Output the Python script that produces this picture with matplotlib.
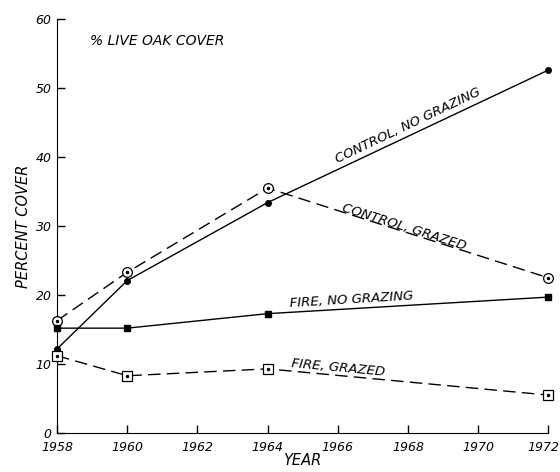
import matplotlib
matplotlib.use("Agg")
import matplotlib.pyplot as plt
import matplotlib.transforms as mtransforms

years = [1958, 1960, 1964, 1972]
control_no_grazing = [12.2, 22.1, 33.4, 52.6]
control_grazed = [16.3, 23.3, 35.5, 22.5]
fire_no_grazing = [15.2, 15.2, 17.3, 19.7]
fire_grazed = [11.2, 8.3, 9.3, 5.5]

x_ticks = [1958, 1960, 1962, 1964, 1966, 1968, 1970, 1972]
y_ticks = [0, 10, 20, 30, 40, 50, 60]

plt.rcParams['font.family'] = ['DejaVu Sans']
fs = dict(fontstyle='italic', color='black')

fig = plt.figure(figsize=(5.6, 4.72), dpi=100)
ax = fig.add_axes([0.102, 0.0826, 0.877, 0.877])

dash = (0, (9, 4.5))
lw = 1.0
ax.plot(years, control_no_grazing, color='black', lw=lw, marker='o', ms=4,
        clip_on=False, zorder=3)
ax.plot(years, control_grazed, color='black', lw=lw, ls=dash, marker='o', ms=7,
        mfc='white', mew=0.9, clip_on=False, zorder=3)
ax.plot(years, control_grazed, ls='none', marker='o', ms=1.5, color='black',
        clip_on=False, zorder=4)
ax.plot(years, fire_no_grazing, color='black', lw=lw, marker='s', ms=4,
        clip_on=False, zorder=3)
ax.plot(years, fire_grazed, color='black', lw=lw, ls=dash, marker='s', ms=7,
        mfc='white', mew=0.9, clip_on=False, zorder=3)
ax.plot(years, fire_grazed, ls='none', marker='o', ms=1.5, color='black',
        clip_on=False, zorder=4)

ax.set_xlim(1958, 1972)
ax.set_ylim(0, 60)
ax.set_xticks(x_ticks)
ax.set_yticks(y_ticks)
ax.spines['top'].set_visible(False)
ax.spines['right'].set_visible(False)
ax.tick_params(direction='in', length=6, width=1, labelsize=9)
ax.tick_params(axis='y', pad=4)
ax.tick_params(axis='x', pad=6)
for lab in ax.get_xticklabels() + ax.get_yticklabels():
    lab.set_fontstyle('italic')
# nudge last x tick label slightly left so it stays inside the figure
xl = ax.get_xticklabels()
xl[-1].set_transform(xl[-1].get_transform() +
                     mtransforms.ScaledTranslation(-5 / 100, 0, fig.dpi_scale_trans))

ax.set_ylabel('PERCENT COVER', fontsize=10.5, labelpad=3, **fs)
ax.set_xlabel('YEAR', fontsize=10.5, labelpad=-1, **fs)

ax.text(0.067, 0.965, '% LIVE OAK COVER', transform=ax.transAxes, fontsize=10,
        va='top', ha='left', **fs)

ax.text(1968.0, 44.5, 'CONTROL, NO GRAZING', rotation=25.5, ha='center', va='center',
        fontsize=9.5, rotation_mode='anchor', **fs)
ax.text(1967.9, 29.9, 'CONTROL, GRAZED', rotation=-17.5, ha='center', va='center',
        fontsize=9.5, rotation_mode='anchor', **fs)
ax.text(1966.4, 19.3, 'FIRE, NO GRAZING', rotation=3.5, ha='center', va='center',
        fontsize=9.5, rotation_mode='anchor', **fs)
ax.text(1966.0, 9.4, 'FIRE, GRAZED', rotation=-5.3, ha='center', va='center',
        fontsize=9.5, rotation_mode='anchor', **fs)

fig.savefig('out.png', dpi=100)
